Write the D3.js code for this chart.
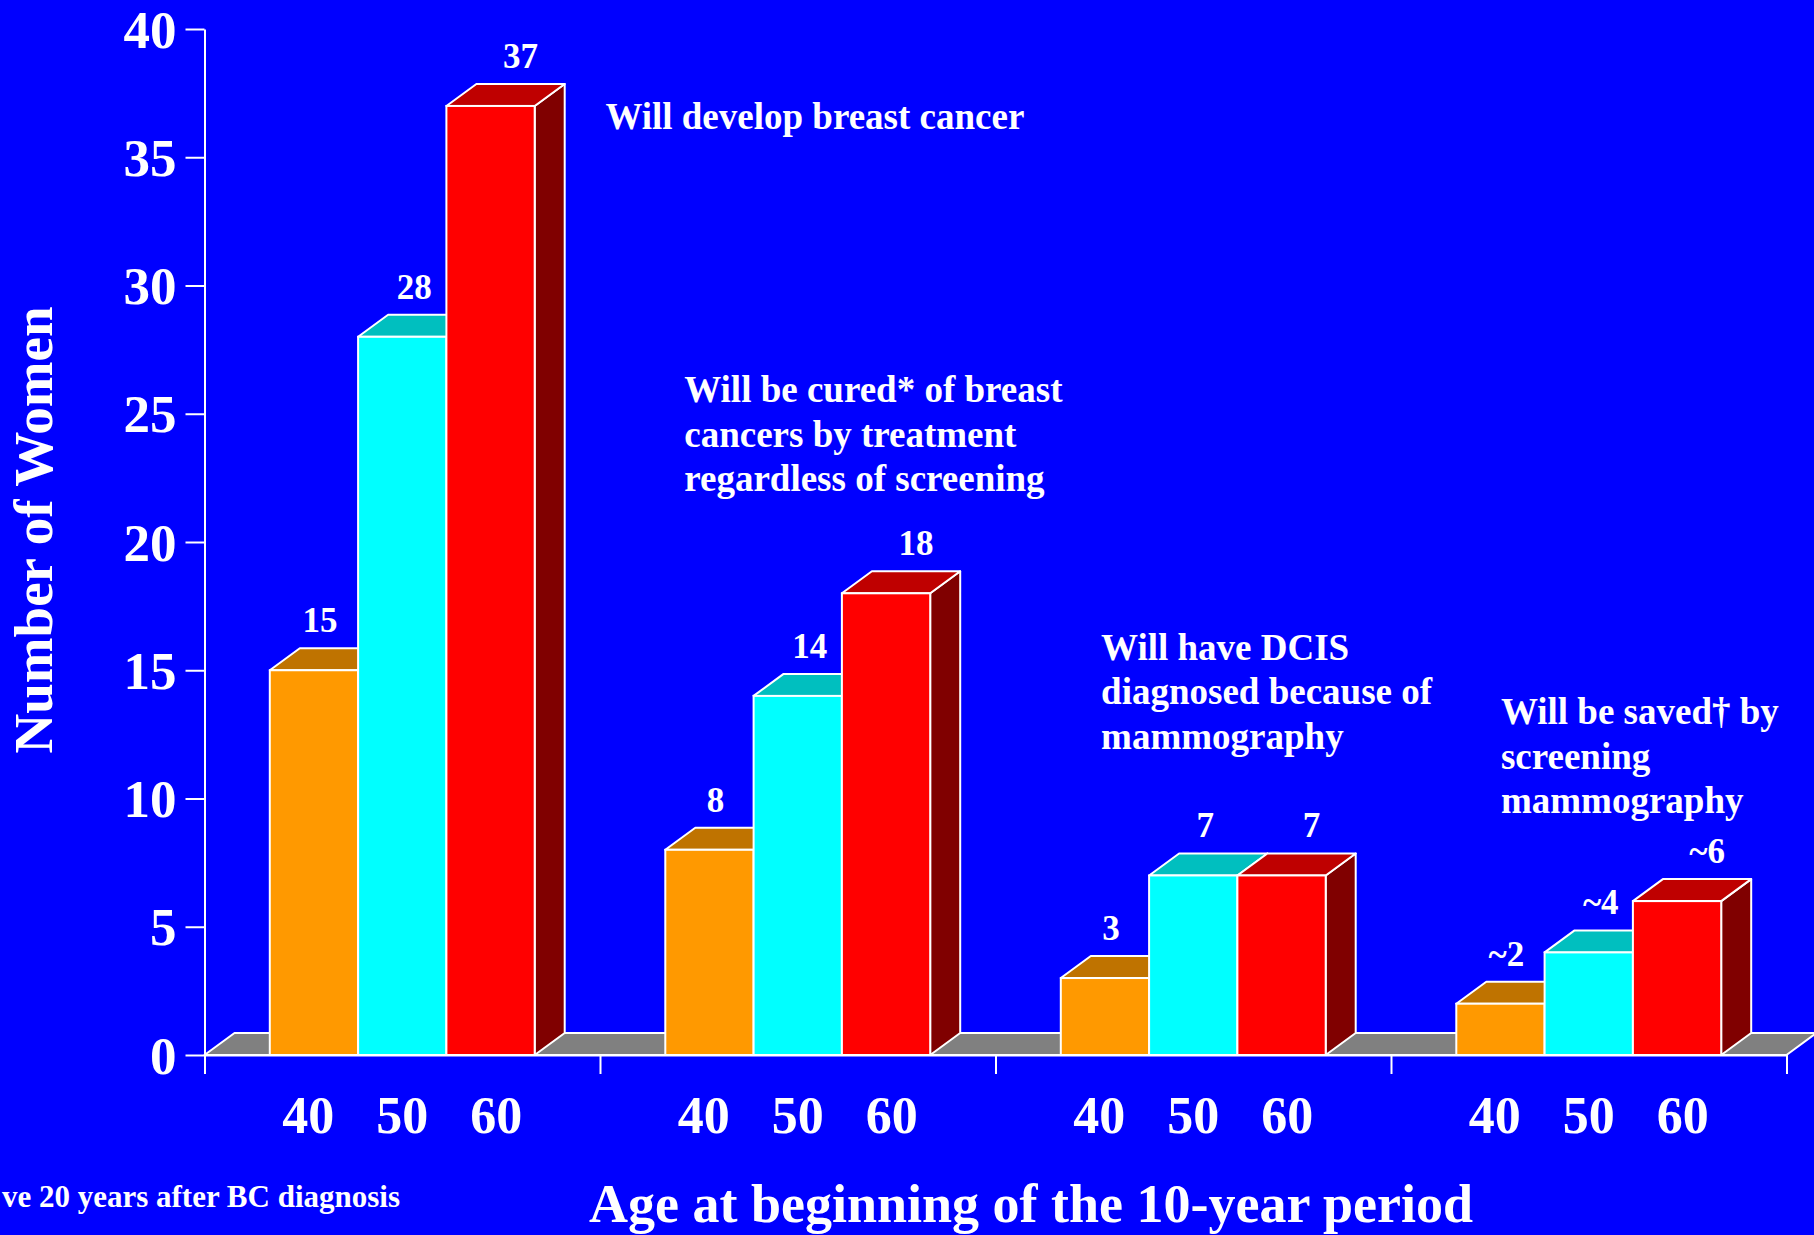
<!DOCTYPE html>
<html>
<head>
<meta charset="utf-8">
<script src="https://cdn.jsdelivr.net/npm/d3@7"></script>
<style>
  html, body { margin: 0; padding: 0; background: #0000FF; overflow: hidden; }
  svg { display: block; }
  text { font-family: "Liberation Serif", "Times New Roman", serif; font-weight: bold; fill: #FFFFFF; }
</style>
</head>
<body>
<svg id="chart" width="1814" height="1235"></svg>
<script>
// Outcome groups (one cluster of bars per group)
const groups = ["develop", "cured", "dcis", "saved"];
const groupNotes = [
  ["Will develop breast cancer"],
  ["Will be cured* of breast", "cancers by treatment", "regardless of screening"],
  ["Will have DCIS", "diagnosed because of", "mammography"],
  ["Will be saved\u2020 by", "screening", "mammography"]
];

// Age at beginning of the 10-year period
const ages = ["40", "50", "60"];

// Number of women per group, one array per age series
const age40 = [15, 8, 3, 2];
const age50 = [28, 14, 7, 4];
const age60 = [37, 18, 7, 6];

// Value labels printed above the bars
const labels40 = ["15", "8", "3", "~2"];
const labels50 = ["28", "14", "7", "~4"];
const labels60 = ["37", "18", "7", "~6"];

const yTicks = [0, 5, 10, 15, 20, 25, 30, 35, 40];

(function draw() {
  const svg = d3.select("#chart");
  const W = 1814, H = 1235;
  svg.append("rect").attr("width", W).attr("height", H).attr("fill", "#0000FF");

  const plotLeft = 204.5, plotRight = 1786.5, plotTop = 29, plotBottom = 1055;
  const depthX = 30, depthY = 22;      // oblique 3D offset
  const barW = 88.3;

  const y = d3.scaleLinear().domain([0, 40]).range([plotBottom, plotTop]);
  const x0 = d3.scaleBand().domain(groups).range([plotLeft, plotRight]).padding(0);
  const bw = x0.bandwidth();
  const x1 = d3.scaleBand().domain(ages).range([bw / 2 - 1.5 * barW, bw / 2 + 1.5 * barW]);
  const xLab = d3.scalePoint().domain(ages).range([bw / 2 - 94, bw / 2 + 94]);

  const series = [
    { age: "40", values: age40, labels: labels40, front: "#FF9900", topFace: "#BF7300", side: "#804C00", nudge: 0.2 },
    { age: "50", values: age50, labels: labels50, front: "#00FFFF", topFace: "#00BFBF", side: "#008080", nudge: 0.4 },
    { age: "60", values: age60, labels: labels60, front: "#FF0000", topFace: "#BF0000", side: "#800000", nudge: 1.0 }
  ];

  const stroke = "#FFFFFF", sw = 2;
  const pts = arr => arr.map(p => p.join(",")).join(" ");

  // floor
  svg.append("polygon")
    .attr("points", pts([
      [plotLeft, plotBottom], [plotRight, plotBottom],
      [plotRight + depthX, plotBottom - depthY], [plotLeft + depthX, plotBottom - depthY]
    ]))
    .attr("fill", "#808080")
    .attr("stroke", stroke)
    .attr("stroke-width", sw)
    .attr("stroke-linejoin", "round");

  // bars
  const bars = [];
  groups.forEach((g, gi) => {
    series.forEach(s => {
      bars.push({ g, gi, s, v: s.values[gi], label: s.labels[gi] });
    });
  });

  const barG = svg.append("g");
  bars.forEach(d => {
    const bx = x0(d.g) + x1(d.s.age);
    const by = y(d.v);
    const b0 = y(0);
    const g = barG.append("g");
    g.append("polygon")
      .attr("points", pts([
        [bx + barW, b0], [bx + barW + depthX, b0 - depthY],
        [bx + barW + depthX, by - depthY], [bx + barW, by]
      ]))
      .attr("fill", d.s.side).attr("stroke", stroke).attr("stroke-width", sw).attr("stroke-linejoin", "round");
    g.append("polygon")
      .attr("points", pts([
        [bx, by], [bx + barW, by],
        [bx + barW + depthX, by - depthY], [bx + depthX, by - depthY]
      ]))
      .attr("fill", d.s.topFace).attr("stroke", stroke).attr("stroke-width", sw).attr("stroke-linejoin", "round");
    g.append("rect")
      .attr("x", bx).attr("y", by)
      .attr("width", barW).attr("height", b0 - by)
      .attr("fill", d.s.front).attr("stroke", stroke).attr("stroke-width", sw);
  });

  // value labels
  svg.append("g").selectAll("text").data(bars).join("text")
    .attr("x", d => x0(d.g) + x1(d.s.age) + barW / 2 + depthX * d.s.nudge)
    .attr("y", d => y(d.v) - depthY - 16)
    .attr("text-anchor", "middle")
    .attr("font-size", 35)
    .text(d => d.label);

  // y axis
  const yAxis = d3.axisLeft(y).tickValues(yTicks).tickSize(19).tickSizeOuter(0).tickPadding(9);
  const yg = svg.append("g").attr("transform", `translate(${plotLeft},0)`).call(yAxis);
  yg.select(".domain").attr("stroke", stroke).attr("stroke-width", sw);
  yg.selectAll(".tick line").attr("stroke", stroke).attr("stroke-width", sw);
  yg.selectAll(".tick text")
    .attr("fill", "#FFFFFF")
    .attr("font-size", 53)
    .attr("font-family", "Liberation Serif, Times New Roman, serif")
    .attr("font-weight", "bold")
    .attr("dy", "0.34em");

  // x axis: floor front edge and group separators
  const xEdge = d3.scaleLinear().domain([0, groups.length]).range([plotLeft, plotRight]);
  const xAxis = d3.axisBottom(xEdge).tickValues(d3.range(groups.length + 1)).tickSize(19).tickSizeOuter(0).tickFormat("");
  const xg = svg.append("g").attr("transform", `translate(0,${plotBottom})`).call(xAxis);
  xg.select(".domain").attr("stroke", stroke).attr("stroke-width", sw);
  xg.selectAll(".tick line").attr("stroke", stroke).attr("stroke-width", sw);

  // age labels under each group
  const ageLabels = [];
  groups.forEach(g => ages.forEach(a => ageLabels.push({ g, a })));
  svg.append("g").selectAll("text").data(ageLabels).join("text")
    .attr("x", d => x0(d.g) + xLab(d.a))
    .attr("y", 1133)
    .attr("text-anchor", "middle")
    .attr("font-size", 52)
    .text(d => d.a);

  // group annotations
  const noteAnchors = [
    { fx: 1.0136, v: 36.1 },
    { fx: 0.213, v: 25.45 },
    { fx: 0.267, v: 15.4 },
    { fx: 0.278, v: 12.9 }
  ];
  groups.forEach((g, gi) => {
    const ax = x0(g) + noteAnchors[gi].fx * bw;
    const t = svg.append("text")
      .attr("x", ax)
      .attr("y", y(noteAnchors[gi].v))
      .attr("font-size", 37);
    groupNotes[gi].forEach((line, li) => {
      t.append("tspan")
        .attr("x", ax)
        .attr("dy", li === 0 ? 0 : "1.2em")
        .text(line);
    });
  });

  // axis titles
  svg.append("text")
    .attr("transform", "translate(52,530) rotate(-90)")
    .attr("text-anchor", "middle")
    .attr("font-size", 55)
    .text("Number of Women");

  svg.append("text")
    .attr("x", 1031).attr("y", 1222)
    .attr("text-anchor", "middle")
    .attr("font-size", 54)
    .text("Age at beginning of the 10-year period");

  // footnote
  svg.append("text")
    .attr("x", 400).attr("y", 1207)
    .attr("text-anchor", "end")
    .attr("font-size", 31)
    .text("ve 20 years after BC diagnosis");
})();
</script>
</body>
</html>
